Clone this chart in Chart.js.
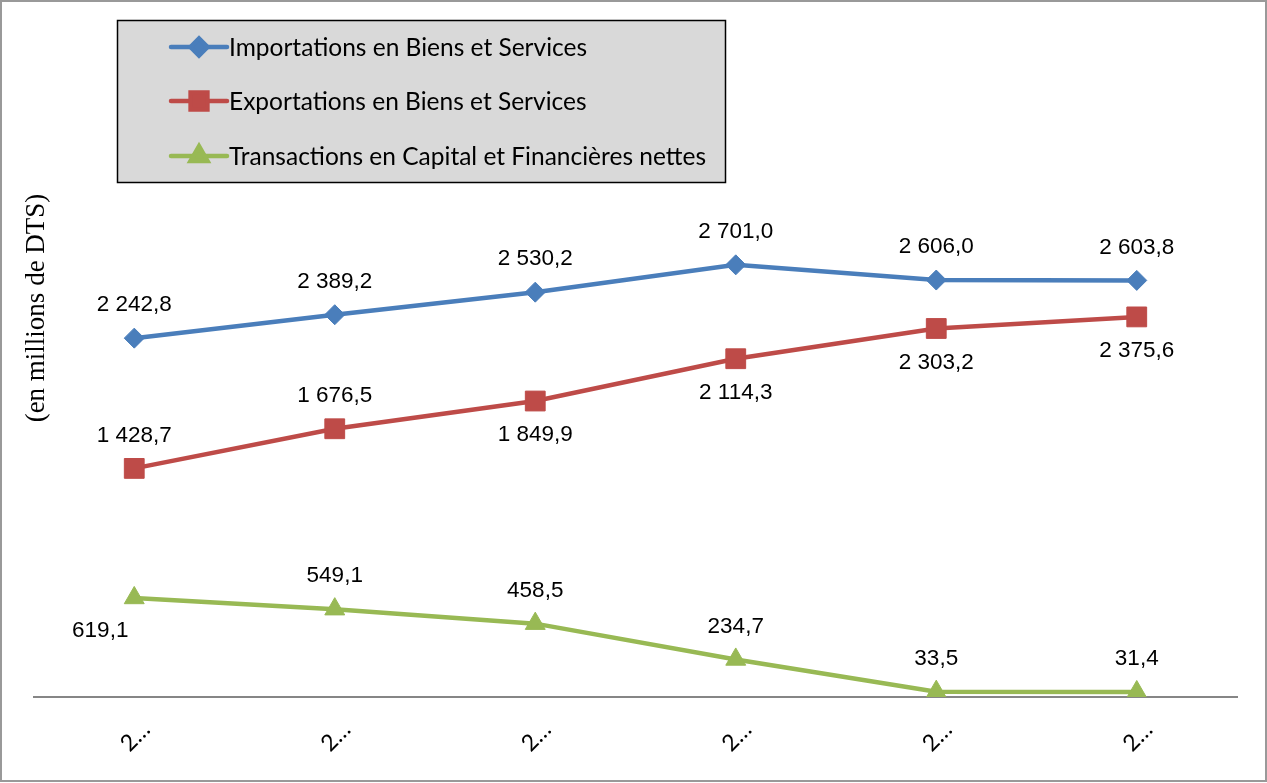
<!DOCTYPE html>
<html>
<head>
<meta charset="utf-8">
<script src="https://cdn.jsdelivr.net/npm/chart.js@4.4.0/dist/chart.umd.min.js"></script>
<style>
  html, body { margin: 0; padding: 0; background: #fff; }
  #wrap { width: 1267px; height: 783px; position: relative; }
</style>
</head>
<body>
<div id="wrap"><canvas id="c" width="1267" height="783"></canvas></div>
<script>
/* ── data ── */
const categories   = ['2…', '2…', '2…', '2…', '2…', '2…'];
const imports      = [2242.8, 2389.2, 2530.2, 2701.0, 2606.0, 2603.8];
const exportsVals  = [1428.7, 1676.5, 1849.9, 2114.3, 2303.2, 2375.6];
const transactions = [619.1, 549.1, 458.5, 234.7, 33.5, 31.4];
const yMin = 0, yMax = 3000;

const seriesNames = [
  'Importations en Biens et Services',
  'Exportations en Biens et Services',
  'Transactions en Capital et Financières nettes'
];

/* where each value label sits relative to its point */
const labelPlaces = [
  ['up', 'up', 'up', 'up', 'up', 'up'],
  ['up', 'up', 'down', 'down', 'down', 'down'],
  ['downLeft', 'up', 'up', 'up', 'up', 'up']
];
const placeOffset = { up: [0, -33], down: [0, 34], downLeft: [-34, 33] };

const BLUE = '#4a7ebb', RED = '#be4b48', GREEN = '#98b954';

function fmt(v) {
  const [a, b] = v.toFixed(1).split('.');
  return a.replace(/\B(?=(\d{3})+(?!\d))/g, ' ') + ',' + b;
}

function marker(ctx, style, r, x, y, color) {
  ctx.save();
  ctx.fillStyle = color;
  ctx.strokeStyle = color;
  if (Chart.helpers && Chart.helpers.drawPoint) {
    Chart.helpers.drawPoint(ctx, { pointStyle: style, radius: r, rotation: 0, borderWidth: 1 }, x, y);
  }
  ctx.restore();
}

/* ── frame + y title ── */
const framePlugin = {
  id: 'frame',
  beforeDraw(chart) {
    const ctx = chart.ctx;
    ctx.save();
    ctx.fillStyle = '#fff';
    ctx.fillRect(0, 0, chart.width, chart.height);
    ctx.strokeStyle = '#999999';
    ctx.lineWidth = 2;
    ctx.strokeRect(1, 1, chart.width - 2, chart.height - 3);
    ctx.restore();
  },
  afterDraw(chart) {
    const ctx = chart.ctx;
    ctx.save();
    ctx.translate(37, 308);
    ctx.rotate(-Math.PI / 2);
    ctx.font = '27px "Liberation Serif", "Times New Roman", serif';
    ctx.fillStyle = '#000';
    ctx.textAlign = 'center';
    ctx.textBaseline = 'middle';
    ctx.fillText('(en millions de DTS)', 0, 0);
    ctx.restore();
  }
};

/* ── legend box ── */
const legendBox = {
  id: 'legendBox',
  afterDraw(chart) {
    const ctx = chart.ctx;
    ctx.save();
    ctx.fillStyle = '#d9d9d9';
    ctx.fillRect(117, 20, 609, 163);
    ctx.strokeStyle = '#000';
    ctx.lineWidth = 1.5;
    ctx.strokeRect(117.5, 20.5, 608, 162);
    const rows = [47, 101, 156];
    chart.data.datasets.forEach((ds, i) => {
      const y = rows[i];
      ctx.strokeStyle = ds.borderColor;
      ctx.lineWidth = 4.5;
      ctx.lineCap = 'round';
      ctx.beginPath();
      ctx.moveTo(171, y);
      ctx.lineTo(227, y);
      ctx.stroke();
      marker(ctx, ds.pointStyle, ds.pointRadius * 0.85, 199, y, ds.borderColor);
      ctx.fillStyle = '#000';
      ctx.font = '24.5px Lato, "Noto Sans", sans-serif';
      ctx.textAlign = 'left';
      ctx.textBaseline = 'middle';
      ctx.fillText(ds.label, 229, y + 1);
    });
    ctx.restore();
  }
};

/* ── value labels ── */
const valueLabels = {
  id: 'valueLabels',
  afterDatasetsDraw(chart) {
    const ctx = chart.ctx;
    ctx.save();
    ctx.font = '22.5px "Liberation Sans", Arial, sans-serif';
    ctx.fillStyle = '#000';
    ctx.textAlign = 'center';
    ctx.textBaseline = 'middle';
    chart.data.datasets.forEach((ds, i) => {
      chart.getDatasetMeta(i).data.forEach((pt, j) => {
        const off = placeOffset[labelPlaces[i][j]];
        ctx.fillText(fmt(ds.data[j]), pt.x + off[0], pt.y + off[1]);
      });
    });
    ctx.restore();
  }
};

const line = (label, data, color, style, r) => ({
  label, data,
  borderColor: color, backgroundColor: color,
  borderWidth: 4.5,
  pointStyle: style, pointRadius: r,
  pointBackgroundColor: color, pointBorderColor: color, pointBorderWidth: 1,
  tension: 0
});

new Chart(document.getElementById('c'), {
  type: 'line',
  data: {
    labels: categories,
    datasets: [
      line(seriesNames[0], imports, BLUE, 'rectRot', 10),
      line(seriesNames[1], exportsVals, RED, 'rect', 14),
      line(seriesNames[2], transactions, GREEN, 'triangle', 11.5)
    ]
  },
  options: {
    responsive: false,
    animation: false,
    devicePixelRatio: 1,
    layout: { padding: { left: 34, right: 30, top: 217, bottom: 0 } },
    plugins: { legend: { display: false }, tooltip: { enabled: false } },
    scales: {
      x: {
        offset: true,
        grid: { display: false, drawTicks: false },
        border: { display: true, color: '#868686', width: 2 },
        ticks: {
          color: '#000',
          font: { family: 'Lato, "Noto Sans", sans-serif', size: 23 },
          minRotation: 45, maxRotation: 45,
          padding: 19,
          labelOffset: 12
        },
        afterFit(s) { s.height = 86; }
      },
      y: { display: false, min: yMin, max: yMax }
    }
  },
  plugins: [framePlugin, legendBox, valueLabels]
});
</script>
</body>
</html>
